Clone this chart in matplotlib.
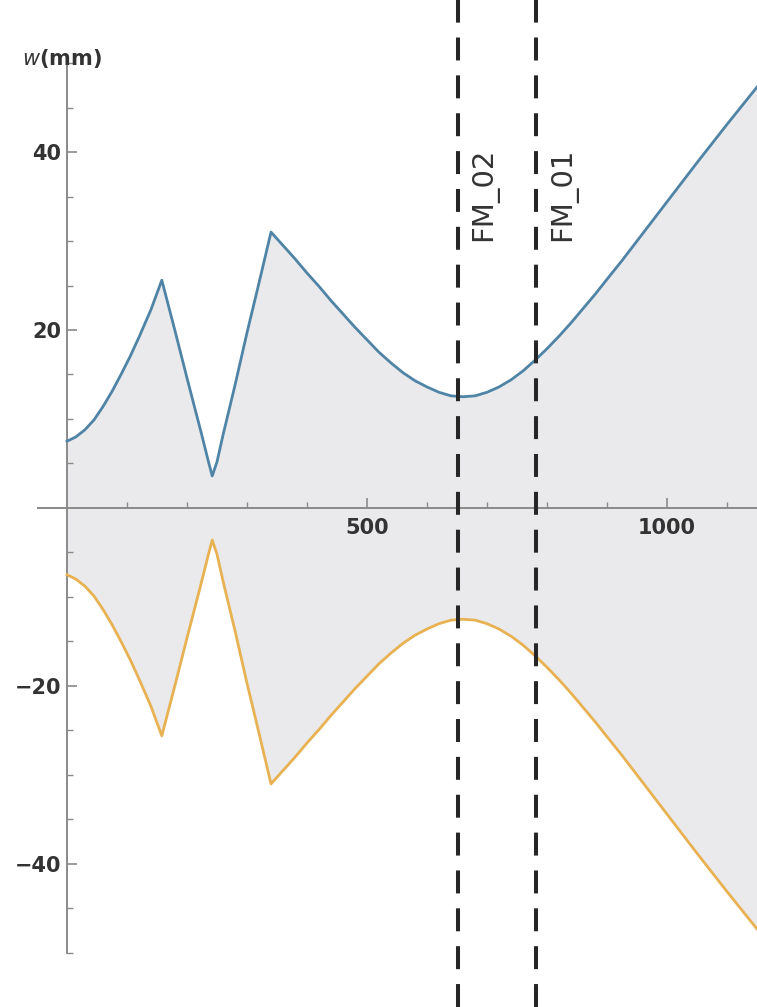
import matplotlib.pyplot as plt
import numpy as np
from matplotlib import ticker

# Beam envelope (s in mm along the line, w in mm)
s = [0, 15, 30, 45, 60, 75, 90, 105, 120, 140, 158,
     180, 200, 215, 225, 235, 242, 250, 260, 280, 300, 320, 340,
     360, 380, 400, 420, 440, 460, 480, 500, 520, 540, 560, 580, 600,
     620, 640, 660, 680, 700, 720, 740, 760, 780, 800, 820, 840, 860,
     880, 900, 925, 950, 975, 1000, 1050, 1100, 1150]
w_upper = [7.5, 8.0, 8.8, 9.9, 11.4, 13.1, 15.0, 17.0, 19.2, 22.3, 25.6,
           19.9, 14.6, 10.7, 8.1, 5.4, 3.6, 5.2, 8.2, 13.8, 19.7, 25.3, 31.0,
           29.5, 28.0, 26.4, 24.9, 23.3, 21.8, 20.3, 18.9, 17.5, 16.3, 15.2, 14.3, 13.6,
           13.0, 12.6, 12.5, 12.6, 13.0, 13.6, 14.4, 15.4, 16.6, 17.9, 19.3, 20.8, 22.4,
           24.0, 25.7, 27.8, 30.0, 32.2, 34.4, 38.8, 43.1, 47.3]
w_lower = [-7.5, -8.0, -8.8, -9.9, -11.4, -13.1, -15.0, -17.0, -19.2, -22.3, -25.6,
           -19.9, -14.6, -10.7, -8.1, -5.4, -3.6, -5.2, -8.2, -13.8, -19.7, -25.3, -31.0,
           -29.5, -28.0, -26.4, -24.9, -23.3, -21.8, -20.3, -18.9, -17.5, -16.3, -15.2, -14.3, -13.6,
           -13.0, -12.6, -12.5, -12.6, -13.0, -13.6, -14.4, -15.4, -16.6, -17.9, -19.3, -20.8, -22.4,
           -24.0, -25.7, -27.8, -30.0, -32.2, -34.4, -38.8, -43.1, -47.3]

# Markers
fm_names = ["FM_02", "FM_01"]
fm_pos = [651, 782]


def main() -> None:
    fig = plt.figure(figsize=(7.57, 10.07), dpi=100)
    ax = fig.add_axes([0, 0, 1, 1])

    x = np.array(s)
    up = np.array(w_upper)
    lo = np.array(w_lower)

    ax.fill_between(x, 0, up, color="#eaeaec", lw=0, zorder=1)
    ax.fill_between(x, 0, lo, color="#eaeaec", lw=0, zorder=1)
    ax.plot(x, up, color="#4f84a6", lw=2.0, zorder=3, solid_joinstyle="round")
    ax.plot(x, lo, color="#e8b152", lw=2.0, zorder=3, solid_joinstyle="round")

    for name, pos in zip(fm_names, fm_pos):
        ax.axvline(pos, color="#262626", lw=2.9, dashes=(5.7, 3.7), zorder=4)
        ax.annotate(name, xy=(pos, 30), xytext=(9, 0), textcoords="offset points",
                    rotation=90, ha="left", va="bottom", fontsize=21, color="#333333")

    ax.set_xlim(-111.7, 1150)
    ax.set_ylim(-56.07, 57.08)

    # Mathematica-style axes crossing at the origin
    for side in ["top", "right"]:
        ax.spines[side].set_visible(False)
    ax.spines["left"].set_position(("data", 0))
    ax.spines["bottom"].set_position(("data", 0))
    ax.spines["left"].set_bounds(-50, 50)
    ax.spines["bottom"].set_bounds(-48, 1150)
    for side in ["left", "bottom"]:
        ax.spines[side].set_color("#8a8a8a")
        ax.spines[side].set_linewidth(1.4)
        ax.spines[side].set_zorder(2)

    ax.xaxis.set_major_locator(ticker.FixedLocator([500, 1000]))
    ax.xaxis.set_minor_locator(ticker.FixedLocator(np.arange(100, 1150, 100)))
    ax.yaxis.set_major_locator(ticker.FixedLocator([-40, -20, 20, 40]))
    ax.yaxis.set_minor_locator(ticker.FixedLocator([v for v in range(-50, 51, 5) if v % 20 and v]))

    ax.tick_params(which="major", direction="in", length=7, width=1.2, color="#8a8a8a",
                   labelsize=15, labelcolor="#333333")
    ax.tick_params(which="minor", direction="in", length=4, width=1.0, color="#8a8a8a")
    ax.tick_params(axis="x", which="major", pad=7)
    ax.tick_params(axis="y", which="major", pad=4)
    for lab in ax.get_xticklabels() + ax.get_yticklabels():
        lab.set_fontweight("bold")

    ax.text(-75, 50.5, r"$\it{w}$(mm)", fontsize=15, fontweight="bold", color="#333333",
            ha="left", va="center")

    fig.savefig("out.png", dpi=100)
    plt.close(fig)


if __name__ == "__main__":
    main()
